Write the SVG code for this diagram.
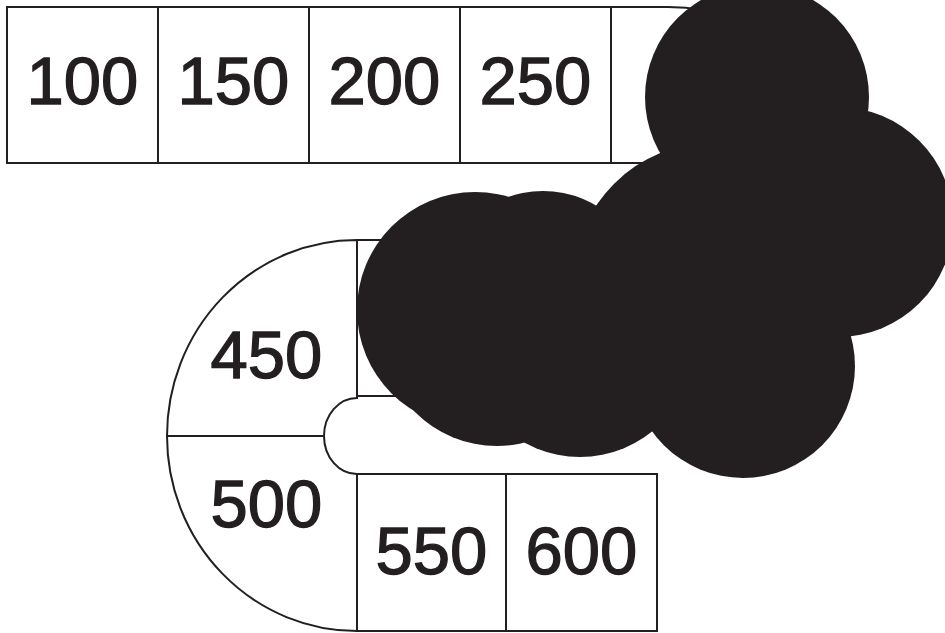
<svg xmlns="http://www.w3.org/2000/svg" width="945" height="633" viewBox="0 0 945 633">
<style>
.cell{fill:#ffffff;stroke:#231f20;stroke-width:2;stroke-linejoin:miter}
.lbl{font-family:"Liberation Sans",Arial,sans-serif;font-size:67px;fill:#231f20;stroke:#231f20;stroke-width:1.3;text-anchor:middle}
.cloud circle{fill:#231f20}
</style>
<rect width="945" height="633" fill="#ffffff"/>
<g id="track-hidden">
<path class="cell" d="M611,7 H668 A190,194.5 0 0 1 668,396 H357 V240 H668 A38.5,38.5 0 0 0 668,163 H611 Z"/>
</g>
<g id="n100"><rect class="cell" x="7" y="7" width="151" height="156"/><text class="lbl" x="82.5" y="104">100</text></g>
<g id="n150"><rect class="cell" x="158" y="7" width="151" height="156"/><text class="lbl" x="233.5" y="104">150</text></g>
<g id="n200"><rect class="cell" x="309" y="7" width="151" height="156"/><text class="lbl" x="384.5" y="104">200</text></g>
<g id="n250"><rect class="cell" x="460" y="7" width="151" height="156"/><text class="lbl" x="535.5" y="104">250</text></g>
<g id="n450"><path class="cell" d="M357,240 A190,196 0 0 0 167,436 H324 A33,38 0 0 1 357,398 Z"/><text class="lbl" x="266.5" y="378">450</text></g>
<g id="n500"><path class="cell" d="M167,436 A190,195 0 0 0 357,631 V474 A33,38 0 0 1 324,436 Z"/><text class="lbl" x="266.5" y="527">500</text></g>
<g id="n550"><rect class="cell" x="357" y="474" width="149" height="157"/><text class="lbl" x="431.5" y="574">550</text></g>
<g id="n600"><rect class="cell" x="506" y="474" width="151" height="157"/><text class="lbl" x="581.5" y="574">600</text></g>
<g id="connectors"></g>
<g id="cloud" class="cloud">
<circle cx="757" cy="97" r="112"/>
<circle cx="838" cy="222" r="115"/>
<circle cx="743" cy="366" r="112"/>
<circle cx="715" cy="285" r="143"/>
<circle cx="543" cy="296" r="105"/>
<circle cx="580" cy="342" r="115"/>
<circle cx="475" cy="310" r="118"/>
<circle cx="497" cy="330" r="116"/>
</g>
</svg>
